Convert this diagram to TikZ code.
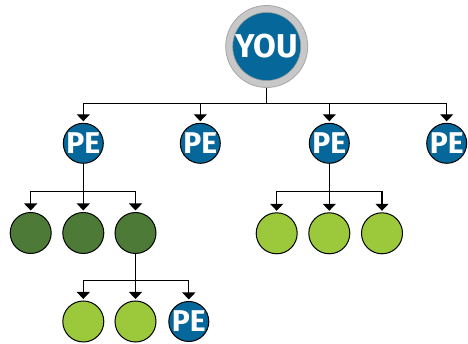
\documentclass[tikz,border=0pt]{standalone}
\usepackage{fontspec}
\setmainfont{Fira Sans}
\usetikzlibrary{arrows.meta}
\definecolor{peblue}{HTML}{05679A}
\definecolor{dkgreen}{HTML}{4E7A38}
\definecolor{ltgreen}{HTML}{9CC93C}
\definecolor{ringgray}{HTML}{C8C8C8}
\tikzset{
  pe/.style={circle,draw=black,line width=1pt,fill=peblue,minimum size=40pt,inner sep=0pt,
    text=white,font=\fontsize{30}{30}\selectfont\bfseries},
  dk/.style={circle,draw=black,line width=1pt,fill=dkgreen,minimum size=41pt,inner sep=0pt},
  lt/.style={circle,draw=black,line width=1pt,fill=ltgreen,minimum size=41pt,inner sep=0pt},
  arr/.style={line width=1.2pt,-{Triangle[width=13pt,length=7pt]},shorten >=1.5pt},
  ln/.style={line width=1.2pt}
}
\begin{document}
\begin{tikzpicture}[x=1pt,y=-1pt]
\useasboundingbox (0,0) rectangle (468,344);
% YOU
\node[circle,fill=ringgray,draw=gray!70,line width=0.8pt,minimum size=82pt,inner sep=0pt] (ring) at (266.7,46.5) {};
\node[circle,fill=peblue,draw=gray!80,line width=0.5pt,minimum size=68pt,inner sep=0pt,text=white,
  font=\fontsize{33}{33}\selectfont\bfseries] (you) at (266.7,46.5) {YOU};
% level 1
\node[pe] (p1) at (83.3,143.3) {PE};
\node[pe] (p2) at (200.3,143.3) {PE};
\node[pe] (p3) at (329.3,143.3) {PE};
\node[pe] (p4) at (446.7,143.3) {PE};
% level 2 left
\node[dk] (d1) at (30.7,233) {};
\node[dk] (d2) at (83.3,233) {};
\node[dk] (d3) at (135.5,233) {};
% level 2 right
\node[lt] (g1) at (276.7,233.3) {};
\node[lt] (g2) at (329.3,233.3) {};
\node[lt] (g3) at (382,233.3) {};
% level 3
\node[lt] (h1) at (83.3,321.5) {};
\node[lt] (h2) at (135.5,321.5) {};
\node[pe] (h3) at (188.8,321.5) {PE};
% bus coordinates
\coordinate (b1) at (0,103.3);
\coordinate (b2) at (0,191.7);
\coordinate (b3) at (0,280.3);
% connectors
\draw[ln] (ring.south) -- (ring.south |- b1);
\foreach \c in {p1,p2,p3,p4}{\draw[arr] (ring.south |- b1) -| (\c.north);}
\draw[ln] (p1.south) -- (p1.south |- b2);
\foreach \c in {d1,d2,d3}{\draw[arr] (p1.south |- b2) -| (\c.north);}
\draw[ln] (p3.south) -- (p3.south |- b2);
\foreach \c in {g1,g2,g3}{\draw[arr] (p3.south |- b2) -| (\c.north);}
\draw[ln] (d3.south) -- (d3.south |- b3);
\foreach \c in {h1,h2,h3}{\draw[arr] (d3.south |- b3) -| (\c.north);}
\end{tikzpicture}
\end{document}
